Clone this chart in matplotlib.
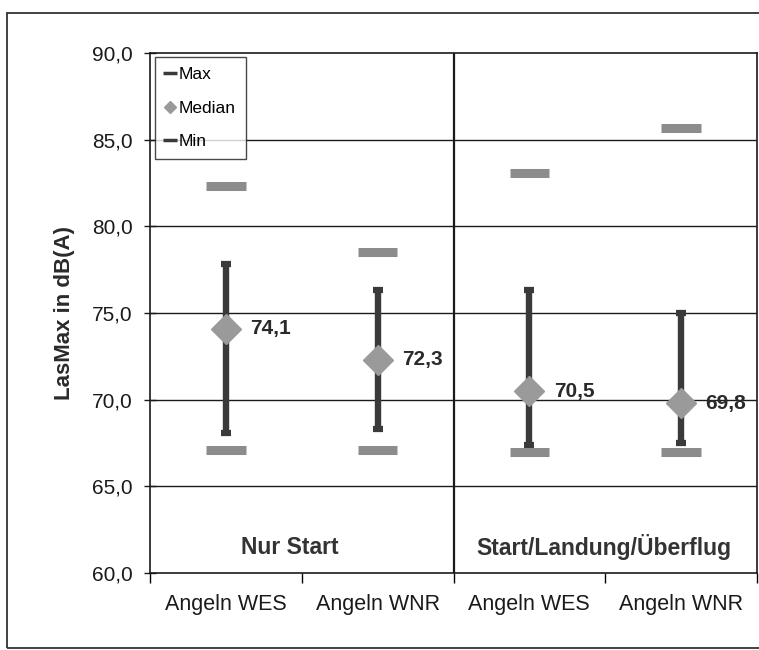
import matplotlib
matplotlib.use("Agg")
import matplotlib.pyplot as plt
from matplotlib.lines import Line2D
from matplotlib.patches import Rectangle
import numpy as np

plt.rcParams['font.family'] = ['Liberation Sans', 'DejaVu Sans']

# Noise levels per measuring site and scenario
categories = ["Angeln WES", "Angeln WNR", "Angeln WES", "Angeln WNR"]
groups = ["Nur Start", "Start/Landung/Überflug"]
max_vals = [82.3, 78.5, 83.1, 85.7]
upper_whisker = [77.8, 76.3, 76.3, 75.0]
median_vals = [74.1, 72.3, 70.5, 69.8]
lower_whisker = [68.1, 68.3, 67.4, 67.5]
min_vals = [67.1, 67.1, 67.0, 67.0]
y_ticks = [60, 65, 70, 75, 80, 85, 90]

W, H = 759, 650
fig = plt.figure(figsize=(W / 100, H / 100), dpi=100)
ax = fig.add_axes([150 / W, 1 - 573 / H, (757 - 150) / W, (573 - 53) / H])

x = np.arange(len(categories))
dark = "#3a3a3a"
grey = "#8c8c8c"

# horizontal grid
for yv in y_ticks[1:-1]:
    ax.axhline(yv, color="#1a1a1a", lw=1.0, zorder=1)
# group separator
ax.axvline(1.5, color="#1a1a1a", lw=1.6, zorder=1)

# whiskers
lo = np.array(median_vals) - np.array(lower_whisker)
hi = np.array(upper_whisker) - np.array(median_vals)
ax.errorbar(x, median_vals, yerr=[lo, hi], fmt="none", ecolor=dark,
            elinewidth=4.6, capsize=3.8, capthick=4.5, zorder=3)

# max / min bars
ax.hlines(max_vals, x - 0.13, x + 0.13, color=grey, lw=6.5, zorder=4)
ax.hlines(min_vals, x - 0.13, x + 0.13, color=grey, lw=6.5, zorder=4)

# medians
ax.plot(x, median_vals, linestyle="none", marker="D", markersize=15,
        color="#9a9a9a", markeredgecolor="#9a9a9a", zorder=5)
for xi, v in zip(x, median_vals):
    ax.text(xi + 0.16, v, f"{v:.1f}".replace(".", ","), ha="left", va="center",
            fontsize=15, fontweight="bold", color="#2a2a2a", zorder=6)

# group labels
ax.text(0.42, 61.5, groups[0], ha="center", va="center", fontsize=16.5,
        fontweight="bold", color="#333333")
ax.text(2.49, 61.5, groups[1], ha="center", va="center", fontsize=16.5,
        fontweight="bold", color="#333333")

ax.set_xlim(-0.5, 3.5)
ax.set_ylim(60, 90)
ax.set_yticks(y_ticks)
ax.set_yticklabels([f"{v:.1f}".replace(".", ",") for v in y_ticks])
ax.tick_params(axis="y", direction="inout", length=9, width=1.0, pad=8,
               labelsize=15, colors="#1a1a1a")

ax.set_xticks(np.arange(-0.5, 4.0, 1.0))
ax.set_xticklabels([])
ax.tick_params(axis="x", which="major", direction="out", length=7, width=1.0)
ax.set_xticks(x, minor=True)
ax.set_xticklabels(categories, minor=True)
ax.tick_params(axis="x", which="minor", length=0, pad=15, labelsize=15.5,
               colors="#1a1a1a")

ax.set_ylabel("LasMax in dB(A)", fontsize=16, fontweight="bold",
              color="#2a2a2a", labelpad=12)

for s in ax.spines.values():
    s.set_color("#1a1a1a")
    s.set_linewidth(1.2)

handles = [
    Line2D([], [], color=dark, marker="_", linestyle="none", markersize=10,
           markeredgewidth=2.5),
    Line2D([], [], color="#9a9a9a", marker="D", linestyle="none", markersize=6.5),
    Line2D([], [], color=dark, marker="_", linestyle="none", markersize=10,
           markeredgewidth=2.5),
]
leg = ax.legend(handles, ["Max", "Median", "Min"], loc="upper left",
                bbox_to_anchor=(0.008, 0.993), fontsize=12.5, frameon=True,
                fancybox=False, edgecolor="#1a1a1a", handlelength=0.6,
                handletextpad=0.15, labelspacing=1.05, borderpad=0.6,
                borderaxespad=0.0)
leg.get_frame().set_linewidth(1.0)
leg.set_zorder(7)

# outer frame
fig.add_artist(Rectangle((7 / W, 2 / H), 1.0, (648 - 13) / H,
                         transform=fig.transFigure, fill=False,
                         edgecolor="#333333", lw=1.3))

fig.savefig("out.png", dpi=100, facecolor="white")
